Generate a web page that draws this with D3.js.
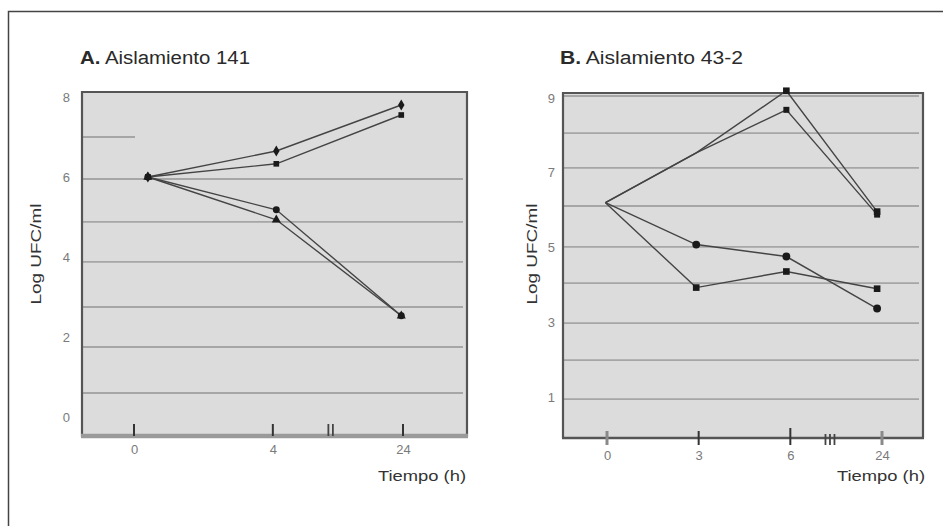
<!DOCTYPE html>
<html>
<head>
<meta charset="utf-8">
<script src="https://cdn.jsdelivr.net/npm/d3@7"></script>
<style>
  body { margin: 0; background: #fff; }
  svg text { font-family: "Liberation Sans", Arial, sans-serif; }
</style>
</head>
<body>
<div class="chart"></div>
<script>
// A. Aislamiento 141 (times 0, 4, 24 h; axis broken before 24)
var tickLabelsA = ["0", "4", "24"];
var tickPosA = [0, 4, 7.75];
var timePosA = [0.4, 4.1, 7.7];
var yTicksA = [0, 2, 4, 6, 8];
var gridA = [7.0, 5.95, 4.88, 3.88, 2.75, 1.75, 0.6];
var a1 = [6.0, 6.65, 7.8];
var a2 = [6.0, 6.33, 7.55];
var a3 = [6.0, 5.18, 2.53];
var a4 = [6.0, 4.93, 2.53];

// B. Aislamiento 43-2 (times 0, 3, 6, 24 h)
var tickLabelsB = ["0", "3", "6", "24"];
var tickPosB = [0, 3, 6, 9];
var timePosB = [-0.05, 2.92, 5.87, 8.84];
var yTicksB = [1, 3, 5, 7, 9];
var gridB = [9.05, 8.06, 7.13, 6.11, 5.02, 4.05, 2.98, 1.99, 0.95];
var b1 = [6.2, 7.53, 9.19, 5.96];
var b2 = [6.2, 7.53, 8.68, 5.88];
var b3 = [6.2, 5.08, 4.76, 3.37];
var b4 = [6.2, 3.93, 4.36, 3.9];
var markB1 = [0, 0, 1, 1];
var markB2 = [0, 0, 1, 1];
var markB3 = [0, 1, 1, 1];
var markB4 = [0, 1, 1, 1];

var panels = [
  {
    letter: "A.", name: " Aislamiento 141", titleX: 80, titleLen: 170,
    left: 82, right: 467, top: 92, bottom: 437,
    xDomain: [0, 7.75], xRange: [134, 403],
    yDomain: [-0.5, 8.125], yTicks: yTicksA, yPad: 12,
    ticks: tickPosA, tickLabels: tickLabelsA, times: timePosA,
    grid: gridA, breakAt: 5.6, breakN: 2,
    ylabelX: 36, tiempoX: 378,
    series: [
      { values: a1, symbol: d3.symbolDiamond, size: 36 },
      { values: a2, symbol: d3.symbolSquare, size: 32 },
      { values: a3, symbol: d3.symbolCircle, size: 38 },
      { values: a4, symbol: d3.symbolTriangle, size: 36 }
    ]
  },
  {
    letter: "B.", name: " Aislamiento 43-2", titleX: 560, titleLen: 183,
    left: 563, right: 923, top: 93, bottom: 438,
    xDomain: [0, 9], xRange: [607, 882],
    yDomain: [-0.09, 9.13], yTicks: yTicksB, yPad: 8,
    ticks: tickPosB, tickLabels: tickLabelsB, times: timePosB,
    grid: gridB, breakAt: 7.15, breakN: 3,
    ylabelX: 532, tiempoX: 837,
    series: [
      { values: b1, marks: markB1, symbol: d3.symbolSquare, size: 44 },
      { values: b2, marks: markB2, symbol: d3.symbolSquare, size: 36 },
      { values: b3, marks: markB3, symbol: d3.symbolCircle, size: 48 },
      { values: b4, marks: markB4, symbol: d3.symbolSquare, size: 44 }
    ]
  }
];

var width = 943, height = 526;

const svg = d3.select(".chart")
  .append("svg")
  .attr("width", width)
  .attr("height", height);

// outer frame (top and left edges only)
svg.append("path")
  .attr("d", "M8.5," + height + "V11.5H" + width)
  .attr("fill", "none")
  .attr("stroke", "#444")
  .attr("stroke-width", 1.5);

panels.forEach(function (p, pi) {
  var x = d3.scaleLinear().domain(p.xDomain).range(p.xRange);
  var y = d3.scaleLinear().domain(p.yDomain).range([p.bottom, p.top]);
  var g = svg.append("g");

  // title
  var t = g.append("text")
    .attr("x", p.titleX)
    .attr("y", 64)
    .attr("font-size", 18)
    .attr("fill", "#2a2a2a")
    .attr("textLength", p.titleLen)
    .attr("lengthAdjust", "spacingAndGlyphs");
  t.append("tspan").attr("font-weight", "bold").text(p.letter);
  t.append("tspan").text(p.name);

  // plot background
  g.append("rect")
    .attr("x", p.left)
    .attr("y", p.top)
    .attr("width", p.right - p.left)
    .attr("height", p.bottom - p.top)
    .attr("fill", "#dcdcdc");

  // grid lines
  g.selectAll(".grid")
    .data(p.grid)
    .enter()
    .append("line")
    .attr("x1", p.left + 1)
    .attr("x2", function (d, i) {
      // first line of panel A is only a short stub
      return pi == 0 && i == 0 ? p.left + 53 : p.right - 4;
    })
    .attr("y1", (d) => y(d))
    .attr("y2", (d) => y(d))
    .attr("stroke", "#a6a6a6")
    .attr("stroke-width", 1.8);

  // frame of the plot
  var axisCol = pi == 0 ? "#9a9a9a" : "#555";
  g.append("path")
    .attr("d", "M" + p.left + "," + p.bottom + "V" + p.top + "H" + p.right + "V" + p.bottom)
    .attr("fill", "none")
    .attr("stroke", "#555")
    .attr("stroke-width", 2.2);
  g.append("line")
    .attr("x1", p.left - 1)
    .attr("x2", p.right + 1)
    .attr("y1", p.bottom - (pi == 0 ? 1 : 0))
    .attr("y2", p.bottom - (pi == 0 ? 1 : 0))
    .attr("stroke", axisCol)
    .attr("stroke-width", pi == 0 ? 4.5 : 2.5);

  // tick marks
  g.selectAll(".tick-mark")
    .data(p.ticks)
    .enter()
    .append("line")
    .attr("x1", (d) => x(d))
    .attr("x2", (d) => x(d))
    .attr("y1", function (d, i) { return pi == 0 ? p.bottom - 13 : p.bottom - (i == 2 ? 10 : 7); })
    .attr("y2", function (d) { return pi == 0 ? p.bottom - 1 : p.bottom + 7; })
    .attr("stroke", function (d, i) {
      return pi == 1 && (i == 0 || i == 3) ? "#8a8a8a" : "#333";
    })
    .attr("stroke-width", function (d, i) {
      return pi == 1 && (i == 0 || i == 3) ? 3 : 2;
    });

  // axis break marks
  g.selectAll(".break")
    .data(d3.range(p.breakN))
    .enter()
    .append("line")
    .attr("x1", (d) => x(p.breakAt) + d * 4.5)
    .attr("x2", (d) => x(p.breakAt) + d * 4.5)
    .attr("y1", p.bottom - (pi == 0 ? 13 : 4))
    .attr("y2", p.bottom + (pi == 0 ? -1 : 7))
    .attr("stroke", "#444")
    .attr("stroke-width", 1.8);

  // x tick labels
  var xAxis = g.append("g")
    .attr("transform", "translate(0," + p.bottom + ")")
    .call(d3.axisBottom(x)
      .tickValues(p.ticks)
      .tickSize(0)
      .tickPadding(pi == 0 ? 8 : 13)
      .tickFormat((d, i) => p.tickLabels[i]));
  xAxis.select(".domain").remove();
  xAxis.selectAll("text")
    .attr("font-size", 13)
    .attr("fill", "#7a7a7a")
    .style("font-family", "\"Liberation Sans\", Arial, sans-serif");

  // y tick labels
  var yAxis = g.append("g")
    .attr("transform", "translate(" + p.left + ",0)")
    .call(d3.axisLeft(y)
      .tickValues(p.yTicks)
      .tickSize(0)
      .tickPadding(p.yPad)
      .tickFormat(d3.format("d")));
  yAxis.select(".domain").remove();
  yAxis.selectAll("text")
    .attr("font-size", 13)
    .attr("fill", "#7a7a7a")
    .style("font-family", "\"Liberation Sans\", Arial, sans-serif");

  // axis titles
  g.append("text")
    .attr("transform", "translate(" + (p.ylabelX + 5) + ",254) rotate(-90)")
    .attr("text-anchor", "middle")
    .attr("font-size", 15)
    .attr("fill", "#333")
    .attr("textLength", 101)
    .attr("lengthAdjust", "spacingAndGlyphs")
    .text("Log UFC/ml");

  g.append("text")
    .attr("x", p.tiempoX)
    .attr("y", 481)
    .attr("font-size", 14)
    .attr("fill", "#333")
    .attr("textLength", 88)
    .attr("lengthAdjust", "spacingAndGlyphs")
    .text("Tiempo (h)");

  // series lines
  var line = d3.line()
    .x((d, i) => x(p.times[i]))
    .y((d) => y(d));

  g.selectAll(".series")
    .data(p.series)
    .enter()
    .append("path")
    .attr("d", (s) => line(s.values))
    .attr("fill", "none")
    .attr("stroke", "#444")
    .attr("stroke-width", 1.4);

  // markers
  p.series.forEach(function (s) {
    var pts = s.values
      .map(function (v, i) { return { v: v, i: i }; })
      .filter((d) => !s.marks || s.marks[d.i]);
    g.selectAll(null)
      .data(pts)
      .enter()
      .append("path")
      .attr("d", d3.symbol().type(s.symbol).size(s.size))
      .attr("transform", (d) => "translate(" + x(p.times[d.i]) + "," + y(d.v) + ")")
      .attr("fill", "#1a1a1a");
  });
});
</script>
</body>
</html>
